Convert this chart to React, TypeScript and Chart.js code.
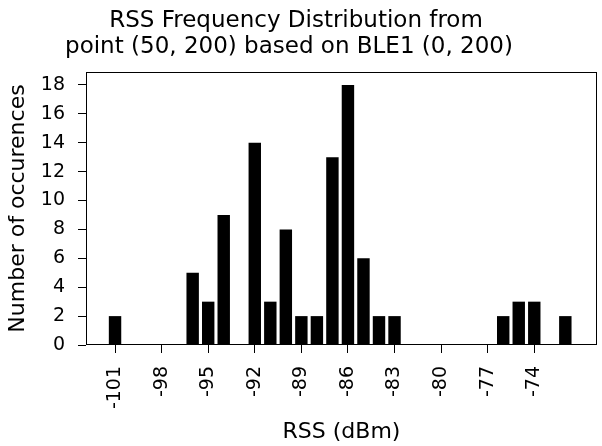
import React, { useEffect, useRef } from "react";
import { Chart, registerables } from "chart.js";

Chart.register(...registerables);

const TITLE_LINES = ["RSS Frequency Distribution from", "point (50, 200) based on BLE1 (0, 200)"];
const X_LABEL = "RSS (dBm)";
const Y_LABEL = "Number of occurences";
const RSS_VALUES = [-101, -96, -95, -94, -92, -91, -90, -89, -88, -87, -86, -85, -84, -83, -76, -75, -74, -72];
const COUNTS = [2, 5, 3, 9, 14, 3, 8, 2, 2, 13, 18, 6, 2, 2, 2, 3, 3, 2];
const X_TICKS = [-101, -98, -95, -92, -89, -86, -83, -80, -77, -74];
const Y_TICKS = [0, 2, 4, 6, 8, 10, 12, 14, 16, 18];

const FONT = "'DejaVu Sans', sans-serif";

const framePlugin = {
  id: "frameAndTitle",
  afterDraw(chart: any) {
    const { ctx, chartArea } = chart;
    ctx.save();
    ctx.strokeStyle = "#000";
    ctx.lineWidth = 1;
    ctx.strokeRect(
      Math.round(chartArea.left) + 0.5,
      Math.round(chartArea.top) + 0.5,
      Math.round(chartArea.right - chartArea.left) - 1,
      Math.round(chartArea.bottom - chartArea.top) - 1
    );
    ctx.fillStyle = "#000";
    ctx.font = `23px ${FONT}`;
    ctx.textAlign = "center";
    ctx.textBaseline = "alphabetic";
    ctx.fillText(TITLE_LINES[0], 296, 27);
    ctx.fillText(TITLE_LINES[1], 289, 53);
    ctx.restore();
  },
};

export default function App() {
  const ref = useRef<HTMLCanvasElement>(null);
  useEffect(() => {
    if (!ref.current) return;
    const chart = new Chart(ref.current, {
      type: "bar",
      data: {
        datasets: [
          {
            data: RSS_VALUES.map((x, i) => ({ x, y: COUNTS[i] })),
            backgroundColor: "#000",
            borderColor: "#000",
            borderWidth: 0,
            barPercentage: 0.8,
            categoryPercentage: 1,
          },
        ],
      },
      options: {
        responsive: false,
        animation: false,
        layout: { padding: { left: 0, top: 72, right: 5, bottom: 0 } },
        plugins: {
          legend: { display: false },
          tooltip: { enabled: false },
          title: { display: false },
        },
        scales: {
          x: {
            type: "linear",
            offset: false,
            min: -102.87,
            max: -69.96,
            grid: {
              offset: false,
              drawOnChartArea: false,
              drawTicks: true,
              tickLength: 8,
              color: "#000",
              lineWidth: 1,
            },
            border: { display: false },
            afterBuildTicks: (scale: any) => {
              scale.ticks = X_TICKS.map((v) => ({ value: v }));
            },
            afterFit: (scale: any) => {
              scale.height = 101;
            },
            ticks: {
              autoSkip: false,
              minRotation: 90,
              maxRotation: 90,
              padding: 13,
              color: "#000",
              font: { family: FONT, size: 19 },
              callback: (v: any) => String(v),
            },
            title: {
              display: true,
              text: X_LABEL,
              color: "#000",
              font: { family: FONT, size: 22 },
              padding: { top: 0, bottom: 1 },
            },
          },
          y: {
            min: 0,
            max: 18.9,
            grid: {
              drawOnChartArea: false,
              drawTicks: true,
              tickLength: 8,
              color: "#000",
              lineWidth: 1,
            },
            border: { display: false },
            afterBuildTicks: (scale: any) => {
              scale.ticks = Y_TICKS.map((v) => ({ value: v }));
            },
            afterFit: (scale: any) => {
              scale.width = 86;
            },
            ticks: {
              padding: 13,
              color: "#000",
              font: { family: FONT, size: 19 },
            },
            title: {
              display: true,
              text: Y_LABEL,
              color: "#000",
              font: { family: FONT, size: 22 },
              padding: { top: 5, bottom: 0 },
            },
          },
        },
      },
      plugins: [framePlugin],
    });
    return () => chart.destroy();
  }, []);
  return (
    <canvas
      ref={ref}
      width={602}
      height={446}
      style={{ position: "absolute", left: 0, top: 0, display: "block" }}
    />
  );
}
